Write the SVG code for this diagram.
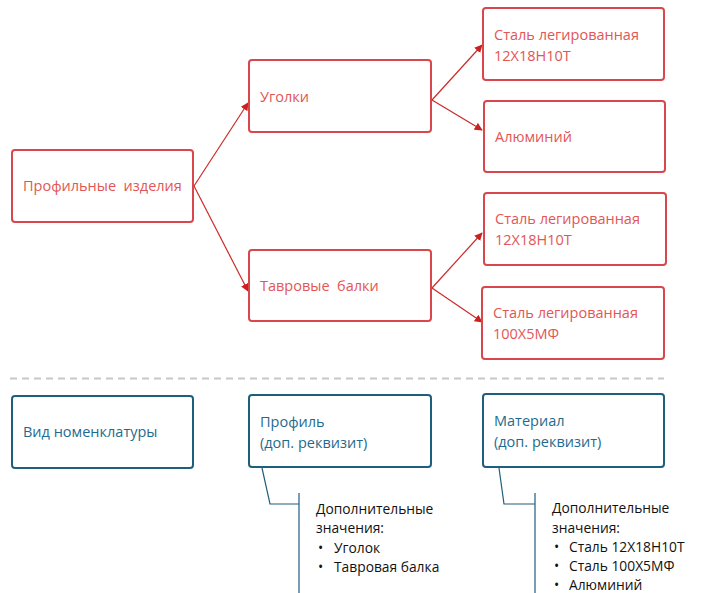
<svg xmlns="http://www.w3.org/2000/svg" width="702" height="593" viewBox="0 0 702 593">
<style>
.r{fill:#fff;stroke:#d9464c;stroke-width:2}
.b{fill:#fff;stroke:#1e5f7d;stroke-width:2}
.t{font-family:"Open Sans","Liberation Sans",sans-serif;font-size:14.5px}
.n{font-family:"Open Sans","Liberation Sans",sans-serif;font-size:13.8px;fill:#111}
.rt{fill:#e25656}
.bt{fill:#1f6b8e}
.c{fill:none;stroke:#cc2a2a;stroke-width:1.2}
.cb{fill:none;stroke:#1e5f7d;stroke-width:1.2}
</style>
<defs>
<marker id="a" viewBox="0 0 10 10" refX="9" refY="5" markerWidth="8" markerHeight="8" orient="auto" markerUnits="userSpaceOnUse"><path d="M0,0L10,5L0,10z" fill="#cc1f1f"/></marker>
</defs>
<g id="connectors">
<path class="c" d="M194,186L248,103" marker-end="url(#a)"/>
<path class="c" d="M194,186L248,291" marker-end="url(#a)"/>
<path class="c" d="M432,100L482,45" marker-end="url(#a)"/>
<path class="c" d="M432,100L482,130" marker-end="url(#a)"/>
<path class="c" d="M432,288L482,233" marker-end="url(#a)"/>
<path class="c" d="M432,288L482,322" marker-end="url(#a)"/>
<path d="M10,378.5H664" stroke="#c8c8c8" stroke-width="2" stroke-dasharray="7,5"/>
<path class="cb" d="M262,468L270,504H299M299,493V593"/>
<path class="cb" d="M499,468L504,504H535M535,493V593"/>
</g>
<g id="n-profil-izdeliya"><rect class="r" x="12" y="150" width="181" height="72" rx="3"/><text class="t rt" x="23" y="191" xml:space="preserve">Профильные  изделия</text></g>
<g id="n-ugolki"><rect class="r" x="249" y="60" width="182" height="72" rx="3"/><text class="t rt" x="260" y="102">Уголки</text></g>
<g id="n-tavr"><rect class="r" x="249" y="250" width="182" height="71" rx="3"/><text class="t rt" x="260" y="291" xml:space="preserve">Тавровые  балки</text></g>
<g id="n-stal1"><rect class="r" x="483" y="8" width="181" height="72" rx="3"/><text class="t rt" x="494" y="40">Сталь легированная</text><text class="t rt" x="494" y="61">12Х18Н10Т</text></g>
<g id="n-al"><rect class="r" x="484" y="101" width="181" height="71" rx="3"/><text class="t rt" x="495" y="142">Алюминий</text></g>
<g id="n-stal2"><rect class="r" x="484" y="193" width="182" height="72" rx="3"/><text class="t rt" x="495" y="224">Сталь легированная</text><text class="t rt" x="495" y="245">12Х18Н10Т</text></g>
<g id="n-stal3"><rect class="r" x="482" y="287" width="182" height="72" rx="3"/><text class="t rt" x="493" y="318">Сталь легированная</text><text class="t rt" x="493" y="339">100Х5МФ</text></g>
<g id="n-vid"><rect class="b" x="12" y="396" width="181" height="72" rx="3"/><text class="t bt" x="23" y="437" font-size="15">Вид номенклатуры</text></g>
<g id="n-profil"><rect class="b" x="249" y="395" width="182" height="72" rx="3"/><text class="t bt" x="260" y="427">Профиль</text><text class="t bt" x="260" y="448">(доп. реквизит)</text></g>
<g id="n-material"><rect class="b" x="483" y="394" width="181" height="73" rx="3"/><text class="t bt" x="494" y="426">Материал</text><text class="t bt" x="494" y="447">(доп. реквизит)</text></g>
<g id="note-profil" class="n">
<text x="316" y="514">Дополнительные</text>
<text x="316" y="533">значения:</text>
<text x="318" y="553">•</text><text x="334" y="553">Уголок</text>
<text x="318" y="572">•</text><text x="334" y="572">Тавровая балка</text>
</g>
<g id="note-material" class="n">
<text x="552" y="513">Дополнительные</text>
<text x="552" y="533">значения:</text>
<text x="554" y="552">•</text><text x="569" y="552">Сталь 12Х18Н10Т</text>
<text x="554" y="571">•</text><text x="569" y="571">Сталь 100Х5МФ</text>
<text x="554" y="590">•</text><text x="569" y="590">Алюминий</text>
</g>
</svg>
